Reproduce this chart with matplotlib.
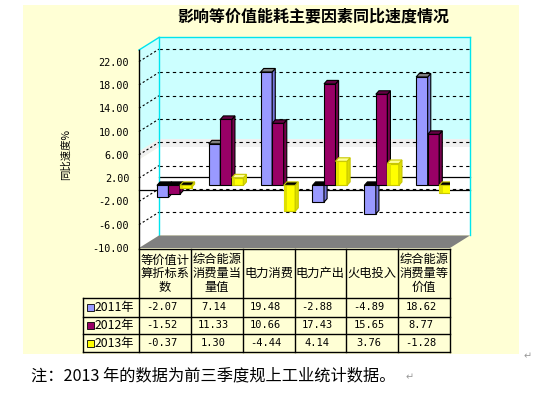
import matplotlib
matplotlib.use('Agg')
import matplotlib.pyplot as plt
from matplotlib.patches import Polygon, Rectangle
from matplotlib.transforms import blended_transform_factory
import numpy as np

plt.rcParams['font.family'] = ['Noto Sans CJK SC', 'DejaVu Sans']

# ---- data ----
categories = ['等价值计\n算折标系\n数', '综合能源\n消费量当\n量值', '电力消费',
              '电力产出', '火电投入', '综合能源\n消费量等\n价值']
series_names = ['2011年', '2012年', '2013年']
v2011 = [-2.07, 7.14, 19.48, -2.88, -4.89, 18.62]
v2012 = [-1.52, 11.33, 10.66, 17.43, 15.65, 8.77]
v2013 = [-0.37, 1.30, -4.44, 4.14, 3.76, -1.28]
y_ticks = [-10, -6, -2, 2, 6, 10, 14, 18, 22]

series = [v2011, v2012, v2013]
front_colors = ['#9999FF', '#990066', '#FFFF00']
top_colors = ['#808080', '#660044', '#FFFF99']
side_colors = ['#7777DD', '#77004D', '#DDDD00']
edge_colors = ['black', 'black', '#C8C800']

W, H = 542, 393
fig = plt.figure(figsize=(W / 100, H / 100), dpi=100)
fig.patch.set_facecolor('white')

# yellow chart area
bg = Rectangle((23 / W, 1 - 354 / H), (519 - 23) / W, (354 - 5) / H,
               transform=fig.transFigure, facecolor='#FFFFD5', edgecolor='none')
bg.set_zorder(-5)
fig.add_artist(bg)

ax = fig.add_axes([139 / W, 1 - 248 / H, 311 / W, 198 / H])
ax.set_zorder(1)
ax.set_xlim(0, 6)
ax.set_ylim(-10, 24)
ax.patch.set_visible(False)
for s in ax.spines.values():
    s.set_visible(False)
ax.set_xticks([])
ax.set_yticks(y_ticks)
ax.set_yticklabels([f'{t:.2f}' for t in y_ticks], family='DejaVu Sans Mono', fontsize=7.3)
ax.tick_params(axis='y', length=0, pad=7)

# depth of the fake 3D box
DX, DY = 0.386, 2.15
YMIN, YMAX = -10, 24

# walls (gradient approximated with bands)
bands = [(YMIN, 5.2, 'white'), (5.2, 6.6, '#F0F0F0'), (6.6, YMAX, '#CCFFFF')]
for lo, hi, c in bands:
    ax.add_patch(Rectangle((DX, lo + DY), 6, hi - lo, facecolor=c, edgecolor='none',
                           zorder=1, clip_on=False))
    ax.add_patch(Polygon([(0, lo), (DX, lo + DY), (DX, hi + DY), (0, hi)], closed=True,
                         facecolor=c, edgecolor='none', zorder=1, clip_on=False))

# gridlines on back and side wall
for t in y_ticks[1:]:
    ax.plot([DX, 6 + DX], [t + DY] * 2, ls=(0, (3, 3)), color='black', lw=0.8,
            zorder=2, clip_on=False)
    ax.plot([0, DX], [t, t + DY], ls=(0, (2, 2)), color='black', lw=0.8,
            zorder=2, clip_on=False)
ax.plot([DX, 6 + DX], [DY, DY], color='black', lw=0.9, zorder=2, clip_on=False)
ax.plot([0, 6 + DX], [0, 0], color='black', lw=0.9, zorder=2, clip_on=False)

# wall outlines
cy = '#00E5EE'
ax.plot([DX, 6 + DX], [YMAX + DY] * 2, color=cy, lw=1, zorder=2, clip_on=False)
ax.plot([6 + DX, 6 + DX], [YMIN + DY, YMAX + DY], color=cy, lw=1, zorder=2, clip_on=False)
ax.plot([0, DX], [YMAX, YMAX + DY], color=cy, lw=1, zorder=2, clip_on=False)
ax.plot([DX, DX], [YMIN + DY, YMAX + DY], color=cy, lw=1, zorder=2, clip_on=False)
ax.plot([0, 0], [YMIN, YMAX], color='black', lw=1, zorder=4, clip_on=False)

# floor
ax.add_patch(Polygon([(0, YMIN), (6, YMIN), (6 + DX, YMIN + DY), (DX, YMIN + DY)],
                     closed=True, facecolor='#808080', edgecolor='none', zorder=3,
                     clip_on=False))

# bars, sitting half way into the depth
BX, BY = 0.18, 0.75
bw = 0.222
TDX, TDY = 0.06, 0.6
xc = np.arange(len(categories)) + 0.5 + BX
for k, vals in enumerate(series):
    xs = xc + (k - 1) * bw
    z = 5 + k
    ax.bar(xs, vals, width=bw, bottom=BY, color=front_colors[k],
           edgecolor=edge_colors[k], lw=0.8, zorder=z)
    for xi, v in zip(xs, vals):
        lo, hi = BY + min(0, v), BY + max(0, v)
        x0, x1 = xi - bw / 2, xi + bw / 2
        if k == 2:
            ax.add_patch(Rectangle((x0, lo), bw * 0.3, hi - lo, facecolor='#E0E000',
                                   edgecolor='none', zorder=z))
        ax.add_patch(Polygon([(x1, lo), (x1 + TDX, lo + TDY), (x1 + TDX, hi + TDY), (x1, hi)],
                             closed=True, facecolor=side_colors[k],
                             edgecolor=edge_colors[k], lw=0.8, zorder=z))
        tc = top_colors[k] if v > 0 else '#000000'
        ax.add_patch(Polygon([(x0, hi), (x1, hi), (x1 + TDX, hi + TDY), (x0 + TDX, hi + TDY)],
                             closed=True, facecolor=tc, edgecolor=edge_colors[k],
                             lw=0.8, zorder=z))

# ---- data table ----
tr = blended_transform_factory(ax.transData, fig.transFigure)
def fy(p):
    return 1 - p / H

row_y = [298, 316.7, 334.3, 352]
leg_x = -1.08
for i in range(len(categories) + 1):
    ax.plot([i, i], [fy(249), fy(352)], color='black', lw=1, transform=tr, clip_on=False)
ax.plot([leg_x, leg_x], [fy(298), fy(352)], color='black', lw=1, transform=tr, clip_on=False)
ax.plot([0, 6], [fy(249), fy(249)], color='black', lw=1, transform=tr, clip_on=False)
for r in row_y:
    ax.plot([leg_x, 6], [fy(r), fy(r)], color='black', lw=1, transform=tr, clip_on=False)

for i, c in enumerate(categories):
    ax.text(i + 0.5, fy(273.5), c, ha='center', va='center', fontsize=8.8,
            linespacing=1.05, transform=tr)

for k, vals in enumerate(series):
    yc = (row_y[k] + row_y[k + 1]) / 2
    ax.add_patch(Rectangle((leg_x + 0.08, fy(yc + 3.5)), 0.135, 7 / H,
                           facecolor=front_colors[k], edgecolor='black', lw=0.6,
                           transform=tr, clip_on=False))
    ax.text(leg_x + 0.23, fy(yc), series_names[k], ha='left', va='center',
            fontsize=8.8, transform=tr)
    for i, v in enumerate(vals):
        ax.text(i + 0.44, fy(yc), f'{v:.2f}', ha='center', va='center',
                family='DejaVu Sans Mono', fontsize=7.5, transform=tr)

# ---- texts ----
fig.text(313 / W, fy(17), '影响等价值能耗主要因素同比速度情况', ha='center', va='center',
         fontsize=11.5, fontweight='bold')
fig.text(66 / W, fy(155), '同比速度%', ha='center', va='center', rotation=90, fontsize=7.5)
fig.text(31 / W, fy(376), '注：2013 年的数据为前三季度规上工业统计数据。', ha='left',
         va='center', fontsize=11.7)
fig.text(406 / W, fy(377), '↵', ha='left', va='center', fontsize=7, color='#999999')
fig.text(524 / W, fy(356), '↵', ha='left', va='center', fontsize=7, color='#999999')

plt.savefig('out.png', dpi=100, facecolor='white')
